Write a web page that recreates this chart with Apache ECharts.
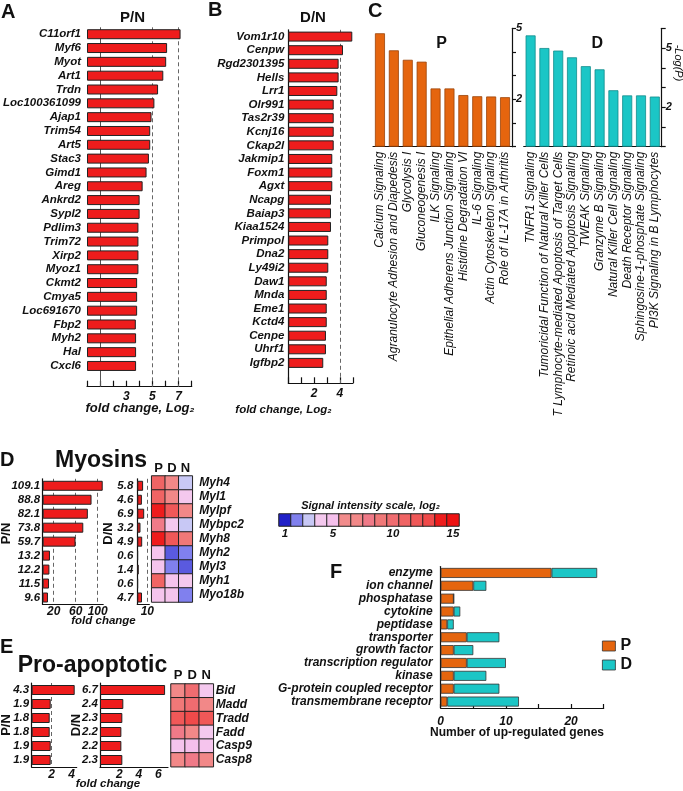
<!DOCTYPE html>
<html><head><meta charset="utf-8">
<script src="https://cdn.jsdelivr.net/npm/echarts@6/dist/echarts.min.js"></script>
<style>html,body{margin:0;padding:0;background:#fff}#c{width:683px;height:791px}</style>
</head><body><div id="c"></div>
<script>
// ---------- DATA ----------
const aGenes = ['C11orf1','Myf6','Myot','Art1','Trdn','Loc100361099','Ajap1','Trim54','Art5','Stac3','Gimd1','Areg','Ankrd2','Sypl2','Pdlim3','Trim72','Xirp2','Myoz1','Ckmt2','Cmya5','Loc691670','Fbp2','Myh2','Hal','Cxcl6'];
const aValues = [7.15,6.12,6.05,5.83,5.43,5.15,4.93,4.83,4.83,4.73,4.55,4.25,4.02,4.02,3.93,3.93,3.93,3.93,3.83,3.83,3.83,3.73,3.75,3.75,3.75];
const aTickLabels = [3,5,7];
const aRefLines = [1,5,7];

const bGenes = ['Vom1r10','Cenpw','Rgd2301395','Hells','Lrr1','Olr991','Tas2r39','Kcnj16','Ckap2l','Jakmip1','Foxm1','Agxt','Ncapg','Baiap3','Kiaa1524','Primpol','Dna2','Ly49i2','Daw1','Mnda','Eme1','Kctd4','Cenpe','Uhrf1','Igfbp2'];
const bValues = [4.96,4.24,3.9,3.9,3.8,3.52,3.52,3.52,3.52,3.41,3.41,3.41,3.31,3.31,3.31,3.1,3.1,3.1,2.98,2.98,2.98,2.98,2.92,2.92,2.71];
const bTickLabels = [2,4];
const bRefLines = [4];

const pPathways = ['Calcium Signaling','Agranulocyte Adhesion and Diapedesis','Glycolysis I','Gluconeogenesis I','ILK Signaling','Epithelial Adherens Junction Signaling','Histidine Degradation VI','IL-6 Signaling','Actin Cytoskeleton Signaling','Role of IL-17A in Arthritis'];
const pLogP = [4.79,4.07,3.67,3.59,2.46,2.46,2.18,2.13,2.12,2.09];
const pAxisLabels = [2,5];
const dPathways = ['TNFR1 Signaling','Tumoricidal Function of Natural Killer Cells','T Lymphocyte-mediated Apoptosis of Target Cells','Retinoic acid Mediated Apoptosis Signaling','TWEAK Signaling','Granzyme B Signaling','Natural Killer Cell Signaling','Death Receptor Signaling','Sphingosine-1-phosphate Signaling','PI3K Signaling in B Lymphocytes'];
const dLogP = [5.64,5.0,4.87,4.53,4.08,3.92,2.86,2.6,2.6,2.54];
const dAxisLabels = [2,5];

const heatCols = ['P','D','N'];
const myoGenes = ['Myh4','Myl1','Mylpf','Mybpc2','Myh8','Myh2','Myl3','Myh1','Myo18b'];
const myoPN = [109.1,88.8,82.1,73.8,59.7,13.2,12.2,11.5,9.6];
const myoDN = [5.8,4.6,6.9,3.2,4.9,0.6,1.4,0.6,4.7];
const myoSignalP = [11,11,14,8,14,4.5,4.5,11,4.5];
const myoSignalD = [7,7,12,4,12,1.6,2,4.5,4.5];
const myoSignalN = [3,4,7,3,9,2,1.6,4,2];
const myoPNLabels = [20,60,100];
const myoDNLabels = [10];

const scaleValues = [1,2,3,4,5,6,7,8,9,10,11,12,13,14,15];
const scaleTickLabels = [1,5,10,15];

const apoGenes = ['Bid','Madd','Tradd','Fadd','Casp9','Casp8'];
const apoPN = [4.3,1.9,1.8,1.8,1.9,1.9];
const apoDN = [6.7,2.4,2.3,2.2,2.2,2.3];
const apoSignalP = [7,9,12,8,4.5,7];
const apoSignalD = [10,10,13,7,5,8];
const apoSignalN = [4,7,12,4,4.5,7];
const apoPNLabels = [2,4];
const apoDNLabels = [2,4,6];

const fCats = ['enzyme','ion channel','phosphatase','cytokine','peptidase','transporter','growth factor','transcription regulator','kinase','G-protein coupled receptor','transmembrane receptor'];
const fP = [17,5,2,2,1,4,2,4,2,2,1];
const fD = [7,2,0,1,1,5,3,6,5,7,11];
const fTickLabels = [0,10,20];

// ---------- STYLE ----------
const FF = '"Liberation Sans", Arial, Helvetica, sans-serif';
const INK = '#111';
const RED = '#EE1C1C', ORANGE = '#E5650E', TEAL = '#1BC6C6';
const scaleColors = ['#2020C8','#8080EE','#C8C8F5','#F4C8EE','#F5C0EC','#F28C8C','#F28888','#F07A88','#F07878','#F06C70','#F06464','#F05858','#F04A4A','#EE1C1C','#EE1111'];

const lab = (size, italic = true, bold = true, extra = {}) => Object.assign({fontFamily: FF, fontSize: size, fontStyle: italic ? 'italic' : 'normal', fontWeight: bold ? 'bold' : 'normal', color: INK}, extra);
const only = arr => v => arr.includes(Number(v)) ? String(v) : '';
const lineOn = {show: true, lineStyle: {color: INK, width: 1.2}};
const off = {show: false};
const refLines = (vals, solidFirst) => ({
  silent: true, symbol: 'none', z: 1, animation: false, label: {show: false},
  lineStyle: {color: '#666', type: [4, 3], width: 1},
  data: vals.map((v, i) => (solidFirst && i === 0) ? {xAxis: v, lineStyle: {type: 'solid', color: '#555'}} : {xAxis: v})
});
const redBar = {color: RED, borderColor: '#222', borderWidth: 1};
const heatData = (p, d, n) => p.map((_, i) => [[0, i, p[i]], [1, i, d[i]], [2, i, n[i]]]).flat();

const grids = [
  {left: 85, top: 27.3, width: 106.7, height: 359.4},   // 0 A
  {left: 288.3, top: 29.8, width: 64.5, height: 353.5}, // 1 B
  {left: 373, top: 28.3, width: 139, height: 118.4},    // 2 C-P
  {left: 523.7, top: 28.3, width: 138, height: 118.4},  // 3 C-D
  {left: 42.7, top: 478.8, width: 60.5, height: 125.7}, // 4 D P/N
  {left: 137.3, top: 478.8, width: 12, height: 125.7},  // 5 D D/N
  {left: 151.7, top: 476, width: 40.6, height: 126},    // 6 D heat
  {left: 279, top: 514, width: 180, height: 12},        // 7 scale
  {left: 31.7, top: 683, width: 45, height: 84},        // 8 E P/N
  {left: 100, top: 683, width: 68, height: 84},         // 9 E D/N
  {left: 171, top: 684, width: 42.3, height: 82.7},     // 10 E heat
  {left: 440.7, top: 566.5, width: 163, height: 141.5}  // 11 F
].map(g => Object.assign({containLabel: false}, g));

const valX = (gi, max, interval, labels, margin, inside, tickLen, size) => ({
  gridIndex: gi, type: 'value', min: 0, max, interval,
  axisLine: lineOn, splitLine: off,
  axisTick: inside ? {show: true, inside: true, length: tickLen, lineStyle: {color: INK, width: 1.2}} : off,
  axisLabel: Object.assign(lab(size || 12), {margin, formatter: only(labels), showMinLabel: true, showMaxLabel: true, hideOverlap: false})
});
const catY = (gi, data, extra) => Object.assign({
  gridIndex: gi, type: 'category', data, inverse: true,
  axisLine: off, axisTick: off, splitLine: off
}, extra);

const xAxis = [
  valX(0, 8, 1, aTickLabels, 4, true, 6),
  valX(1, 5, 1, bTickLabels, 4, true, 6),
  {gridIndex: 2, type: 'category', data: pPathways, axisLine: lineOn, axisTick: off,
   axisLabel: Object.assign(lab(12, true, false), {rotate: 90, interval: 0, margin: 5})},
  {gridIndex: 3, type: 'category', data: dPathways, axisLine: lineOn, axisTick: off,
   axisLabel: Object.assign(lab(12, true, false), {rotate: 90, interval: 0, margin: 5})},
  valX(4, 110, 20, myoPNLabels, 1, false, 0, 12),
  valX(5, 12, 2, myoDNLabels, 1, false, 0, 12),
  {gridIndex: 6, type: 'category', data: heatCols, position: 'top', axisLine: off, axisTick: off,
   axisLabel: Object.assign(lab(13, false, true), {margin: 1})},
  {gridIndex: 7, type: 'category', data: scaleValues, axisLine: off, axisTick: off,
   axisLabel: Object.assign(lab(11.5), {margin: 2, interval: 0, formatter: only(scaleTickLabels)})},
  valX(8, 4.5, 2, apoPNLabels, 2, false, 0, 12),
  valX(9, 7, 2, apoDNLabels, 2, false, 0, 12),
  {gridIndex: 10, type: 'category', data: heatCols, position: 'top', axisLine: off, axisTick: off,
   axisLabel: Object.assign(lab(13, false, true), {margin: 2})},
  valX(11, 25, 5, fTickLabels, 8, true, 4)
];

const yAxis = [
  catY(0, aGenes, {max: 24.75, axisLabel: Object.assign(lab(11.5), {margin: 6, interval: 0})}),
  catY(1, bGenes, {max: 24.5, axisLine: lineOn, axisLabel: Object.assign(lab(11.5), {margin: 4, interval: 0})}),
  {gridIndex: 2, type: 'value', position: 'right', min: 0, max: 5, interval: 1, axisLine: lineOn, splitLine: off,
   axisTick: {show: true, length: 4, lineStyle: {color: INK, width: 1.2}},
   axisLabel: Object.assign(lab(11), {margin: 4, formatter: only(pAxisLabels)})},
  {gridIndex: 3, type: 'value', position: 'right', min: 0, max: 6, interval: 1, axisLine: lineOn, splitLine: off,
   axisTick: {show: true, length: 4, lineStyle: {color: INK, width: 1.2}},
   axisLabel: Object.assign(lab(11), {margin: 4, formatter: only(dAxisLabels)})},
  catY(4, myoGenes, {axisLine: lineOn, axisLabel: Object.assign(lab(11.5), {margin: 2.5, interval: 0, formatter: (v, i) => myoPN[i].toFixed(1)})}),
  catY(5, myoGenes, {axisLine: lineOn, axisLabel: Object.assign(lab(11.5), {margin: 4, interval: 0, formatter: (v, i) => myoDN[i].toFixed(1)})}),
  catY(6, myoGenes, {position: 'right', axisLabel: Object.assign(lab(12), {margin: 7, interval: 0})}),
  {gridIndex: 7, type: 'category', data: ['scale'], axisLine: off, axisTick: off, axisLabel: off},
  catY(8, apoGenes, {axisLine: lineOn, axisLabel: Object.assign(lab(11.5), {margin: 2.5, interval: 0, formatter: (v, i) => apoPN[i].toFixed(1)})}),
  catY(9, apoGenes, {axisLine: lineOn, axisLabel: Object.assign(lab(11.5), {margin: 2, interval: 0, formatter: (v, i) => apoDN[i].toFixed(1)})}),
  catY(10, apoGenes, {position: 'right', axisLabel: Object.assign(lab(12), {margin: 2.5, interval: 0})}),
  catY(11, fCats, {axisLine: lineOn, axisLabel: Object.assign(lab(12), {margin: 8, interval: 0})})
];

const heatStyle = {borderColor: '#222', borderWidth: 1};
const series = [
  {type: 'bar', name: 'A', xAxisIndex: 0, yAxisIndex: 0, data: aValues, barWidth: 10, itemStyle: redBar, markLine: refLines(aRefLines, true)},
  {type: 'bar', name: 'B', xAxisIndex: 1, yAxisIndex: 1, data: bValues, barWidth: 10, itemStyle: redBar, markLine: refLines(bRefLines)},
  {type: 'bar', name: 'P pathways', xAxisIndex: 2, yAxisIndex: 2, data: pLogP, barWidth: 10, itemStyle: {color: ORANGE, borderColor: '#9a4208', borderWidth: 0.8}},
  {type: 'bar', name: 'D pathways', xAxisIndex: 3, yAxisIndex: 3, data: dLogP, barWidth: 10, itemStyle: {color: TEAL, borderColor: '#118c8c', borderWidth: 0.8}},
  {type: 'bar', name: 'myoPN', xAxisIndex: 4, yAxisIndex: 4, data: myoPN, barWidth: 10, itemStyle: redBar, markLine: refLines(myoPNLabels)},
  {type: 'bar', name: 'myoDN', xAxisIndex: 5, yAxisIndex: 5, data: myoDN, barWidth: 10, itemStyle: redBar, markLine: refLines(myoDNLabels)},
  {type: 'heatmap', name: 'myoHeat', xAxisIndex: 6, yAxisIndex: 6, data: heatData(myoSignalP, myoSignalD, myoSignalN), itemStyle: heatStyle, emphasis: {disabled: true}},
  {type: 'heatmap', name: 'scale', xAxisIndex: 7, yAxisIndex: 7, data: scaleValues.map((v, i) => [i, 0, v]), itemStyle: heatStyle, emphasis: {disabled: true}},
  {type: 'bar', name: 'apoPN', xAxisIndex: 8, yAxisIndex: 8, data: apoPN, barWidth: 10, itemStyle: redBar, markLine: refLines([2])},
  {type: 'bar', name: 'apoDN', xAxisIndex: 9, yAxisIndex: 9, data: apoDN, barWidth: 10, itemStyle: redBar},
  {type: 'heatmap', name: 'apoHeat', xAxisIndex: 10, yAxisIndex: 10, data: heatData(apoSignalP, apoSignalD, apoSignalN), itemStyle: heatStyle, emphasis: {disabled: true}},
  {type: 'bar', name: 'P', stack: 'f', xAxisIndex: 11, yAxisIndex: 11, data: fP, barWidth: 10, itemStyle: {color: ORANGE, borderColor: '#333', borderWidth: 0.8}},
  {type: 'bar', name: 'D', stack: 'f', xAxisIndex: 11, yAxisIndex: 11, data: fD, barWidth: 10, itemStyle: {color: TEAL, borderColor: '#333', borderWidth: 0.8}}
];

const T = (text, x, y, font, align, rot) => ({
  type: 'text', x, y, rotation: rot || 0, silent: true, z: 10,
  style: {text, font: font + ' ' + FF, fill: INK, align: align || 'center', verticalAlign: 'middle', textAlign: align || 'center', textVerticalAlign: 'middle'}
});
const R = Math.PI / 2;
const graphic = [
  T('A', 1, 12.5, 'bold 20px', 'left'),
  T('B', 208, 10.5, 'bold 20px', 'left'),
  T('C', 368, 11.5, 'bold 20px', 'left'),
  T('D', 0, 460, 'bold 20px', 'left'),
  T('E', 0, 647, 'bold 20px', 'left'),
  T('F', 330, 572, 'bold 20px', 'left'),
  T('P/N', 132.5, 18, 'bold 15px'),
  T('D/N', 313, 18, 'bold 15px'),
  T('P', 441.7, 43.3, 'bold 16px'),
  T('D', 597.3, 43.3, 'bold 16px'),
  T('-Log(P)', 678, 63, 'italic 11px', 'center', -R),
  T('fold change, Log\u2082', 140, 408, 'italic bold 13px'),
  T('fold change, Log\u2082', 283.5, 410, 'italic bold 11.5px'),
  T('Myosins', 101, 461, 'bold 23px'),
  T('P/N', 6.7, 533.5, 'bold 13px', 'center', R),
  T('D/N', 108, 533.5, 'bold 13px', 'center', R),
  T('fold change', 103.5, 620.7, 'italic bold 11.5px'),
  T('Signal intensity scale, log\u2082', 370.5, 505.5, 'italic bold 11px'),
  T('Pro-apoptotic', 92.5, 666, 'bold 23px'),
  T('P/N', 6.7, 725, 'bold 13px', 'center', R),
  T('D/N', 76.7, 725, 'bold 13px', 'center', R),
  T('fold change', 108, 784, 'italic bold 11.5px'),
  T('Number of up-regulated genes', 517, 733, 'bold 12px')
];

const chart = echarts.init(document.getElementById('c'), null, {renderer: 'canvas'});
chart.setOption({
  animation: false,
  backgroundColor: '#fff',
  textStyle: {fontFamily: FF},
  grid: grids,
  xAxis, yAxis, series, graphic,
  visualMap: {type: 'continuous', min: 1, max: 15, show: false, seriesIndex: [6, 7, 10], inRange: {color: scaleColors}},
  legend: {data: ['P', 'D'], orient: 'vertical', left: 602, top: 638, icon: 'rect', itemWidth: 13, itemHeight: 10, itemGap: 3, padding: 0,
    itemStyle: {borderColor: '#333', borderWidth: 0.8},
    textStyle: {fontFamily: FF, fontSize: 16, fontWeight: 'bold', color: INK, lineHeight: 14}, selectedMode: false}
});
</script></body></html>
